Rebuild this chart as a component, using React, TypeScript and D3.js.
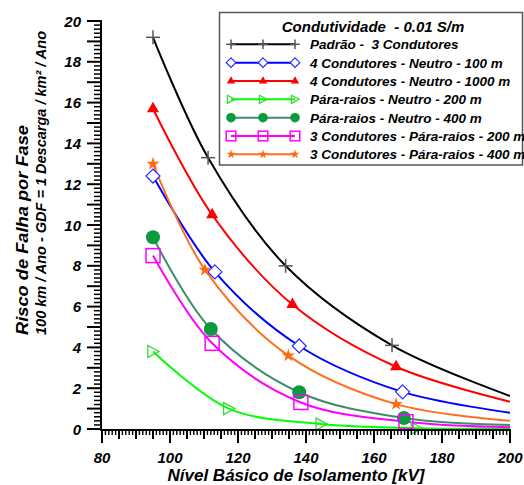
import React from "react";
import * as d3 from "d3";

// values
const xTicks = [80, 100, 120, 140, 160, 180, 200];
const yTicks = [0, 2, 4, 6, 8, 10, 12, 14, 16, 18, 20];

const seriesNames = [
  "Padrão -  3 Condutores",
  "4 Condutores - Neutro - 100 m",
  "4 Condutores - Neutro - 1000 m",
  "Pára-raios - Neutro - 200 m",
  "Pára-raios - Neutro - 400 m",
  "3 Condutores - Pára-raios - 200 m",
  "3 Condutores - Pára-raios - 400 m",
];

const padraoX = [95, 111.2, 134, 165.3];
const padraoY = [19.2, 13.3, 8.0, 4.1];
const neutro100X = [95, 113.2, 138, 168.4];
const neutro100Y = [12.4, 7.7, 4.07, 1.82];
const neutro1000X = [95, 112.4, 136, 166.5];
const neutro1000Y = [15.7, 10.5, 6.1, 3.05];
const pr200X = [95, 117.3, 144.5, 172.5];
const pr200Y = [3.8, 1.0, 0.24, 0.04];
const pr400X = [95, 112, 138, 168.8];
const pr400Y = [9.4, 4.9, 1.8, 0.54];
const c3pr200X = [95, 112.4, 138.5, 169.4];
const c3pr200Y = [8.5, 4.2, 1.3, 0.36];
const c3pr400X = [95, 110.3, 134.8, 166.5];
const c3pr400Y = [13.0, 7.8, 3.6, 1.22];

// where each curve ends at 200 kV
const endX = 200;
const endY = [1.62, 0.8, 1.34, 0.02, 0.2, 0.09, 0.41];

const lineColors = ["#000000", "#0000ff", "#ff0000", "#00ff00", "#3a8f6a", "#ff00ff", "#ff7020"];
const markerKinds = ["plus", "diamond", "triangle", "tright", "circle", "square", "star"];

const font = "'Liberation Sans', Arial, sans-serif";

const W = 524;
const H = 485;
const x = d3.scaleLinear().domain([80, 200]).range([102, 510]);
const y = d3.scaleLinear().domain([0, 20]).range([429, 21]);

const allX = [padraoX, neutro100X, neutro1000X, pr200X, pr400X, c3pr200X, c3pr400X];
const allY = [padraoY, neutro100Y, neutro1000Y, pr200Y, pr400Y, c3pr200Y, c3pr400Y];

const series = seriesNames.map((name, i) => ({
  name,
  color: lineColors[i],
  kind: markerKinds[i],
  marks: allX[i].map((v, j) => [v, allY[i][j]] as [number, number]),
  curve: [...allX[i].map((v, j) => [v, allY[i][j]] as [number, number]), [endX, endY[i]] as [number, number]],
}));

const line = d3
  .line<[number, number]>()
  .x((d) => x(d[0]))
  .y((d) => y(d[1]))
  .curve(d3.curveCatmullRom.alpha(0.5));

function Marker({ kind, cx, cy, s, color }: { kind: string; cx: number; cy: number; s: number; color: string }) {
  const t = `translate(${cx},${cy})`;
  switch (kind) {
    case "plus":
      return (
        <g transform={t} stroke="#555" strokeWidth={1.5}>
          <line x1={-s} x2={s} y1={0} y2={0} />
          <line x1={0} x2={0} y1={-s} y2={s} />
        </g>
      );
    case "diamond":
      return (
        <path
          transform={t}
          d={`M0,${-s}L${s},0L0,${s}L${-s},0Z`}
          fill="white"
          stroke="#2a2aff"
          strokeWidth={1.2}
        />
      );
    case "triangle":
      return <path transform={t} d={d3.symbol(d3.symbolTriangle, s * s * 1.3)()!} fill={color} />;
    case "tright":
      return (
        <path
          transform={t}
          d={`M${-s * 0.75},${-s * 0.85}L${s * 0.85},0L${-s * 0.75},${s * 0.85}Z`}
          fill="none"
          stroke="#33dd33"
          strokeWidth={1.3}
        />
      );
    case "circle":
      return <circle cx={cx} cy={cy} r={s} fill="#0b9a3e" />;
    case "square":
      return (
        <rect x={cx - s} y={cy - s} width={2 * s} height={2 * s} fill="none" stroke={color} strokeWidth={1.5} />
      );
    case "star":
      return <path transform={t} d={d3.symbol(d3.symbolStar, (s * s) / 0.89)()!} fill="#ff6a10" />;
    default:
      return null;
  }
}

export default function App() {
  const yMinor = d3.range(0, 100.5, 1).map((v) => v / 5);
  const xMinor = d3.range(80, 200.5, 1);

  const legendRows = [44.3, 62.7, 81, 99.3, 117.7, 136, 154.3];

  return (
    <svg
      width={W}
      height={H}
      style={{ position: "absolute", left: 0, top: 0, background: "white" }}
      fontFamily={font}
    >
      {/* curves */}
      {series.map((s) => (
        <path key={s.name} d={line(s.curve)!} fill="none" stroke={s.color} strokeWidth={2} />
      ))}
      {series.map((s) =>
        s.marks.map((m, j) => (
          <Marker key={s.name + j} kind={s.kind} cx={x(m[0])} cy={y(m[1])} s={7} color={s.color} />
        ))
      )}

      {/* y axis */}
      <g stroke="black">
        {yMinor.map((v) => {
          const major = Math.abs(v - Math.round(v)) < 1e-6;
          return (
            <line
              key={"y" + v}
              x1={major ? 87 : 94}
              x2={102}
              y1={y(v)}
              y2={y(v)}
              strokeWidth={major ? 2 : 1.5}
            />
          );
        })}
        <line x1={101} x2={101} y1={y(20) - 1} y2={y(0) + 1} strokeWidth={2} />
      </g>
      {yTicks.map((v) => (
        <text
          key={"yl" + v}
          x={81}
          y={y(v) + 5.5}
          textAnchor="end"
          fontSize={15}
          fontWeight="bold"
          fontStyle="italic"
        >
          {v}
        </text>
      ))}

      {/* x axis */}
      <g stroke="black">
        {xMinor.map((v) => {
          const len = v % 20 === 0 ? 14 : v % 5 === 0 ? 10 : 6;
          return (
            <line key={"x" + v} x1={x(v)} x2={x(v)} y1={429} y2={429 + len} strokeWidth={v % 5 === 0 ? 2 : 1.4} />
          );
        })}
        <line x1={100} x2={511} y1={430} y2={430} strokeWidth={2} />
      </g>
      {xTicks.map((v) => (
        <text
          key={"xl" + v}
          x={x(v)}
          y={463}
          textAnchor="middle"
          fontSize={15}
          fontWeight="bold"
          fontStyle="italic"
        >
          {v}
        </text>
      ))}

      {/* axis titles */}
      <text x={296} y={481} textAnchor="middle" fontSize={17} fontWeight="bold" fontStyle="italic">
        Nível Básico de Isolamento [kV]
      </text>
      <text
        transform="translate(28,335) rotate(-90)"
        fontSize={17}
        fontWeight="bold"
        fontStyle="italic"
        textLength={210}
        lengthAdjust="spacingAndGlyphs"
      >
        Risco de Falha por Fase
      </text>
      <text
        transform="translate(46,335) rotate(-90)"
        fontSize={15}
        fontWeight="bold"
        fontStyle="italic"
        textLength={304}
        lengthAdjust="spacingAndGlyphs"
      >
        100 km / Ano - GDF = 1 Descarga / km² / Ano
      </text>

      {/* legend */}
      <rect x={219.5} y={12.5} width={303} height={152.5} fill="white" stroke="#555" strokeWidth={1.5} />
      <text x={373} y={32} textAnchor="middle" fontSize={15} fontWeight="bold" fontStyle="italic" xmlSpace="preserve">
        {"Condutividade  - 0.01 S/m"}
      </text>
      {series.map((s, i) => {
        const cy = legendRows[i];
        return (
          <g key={"lg" + s.name}>
            <line x1={231} x2={295} y1={cy} y2={cy} stroke={s.color} strokeWidth={2} />
            {[231, 263, 295].map((mx) => (
              <Marker key={mx} kind={s.kind} cx={mx} cy={cy} s={4.8} color={s.color} />
            ))}
            <text
              x={310}
              y={cy + 5}
              fontSize={13.5}
              fontWeight="bold"
              fontStyle="italic"
              xmlSpace="preserve"
            >
              {s.name}
            </text>
          </g>
        );
      })}
    </svg>
  );
}
